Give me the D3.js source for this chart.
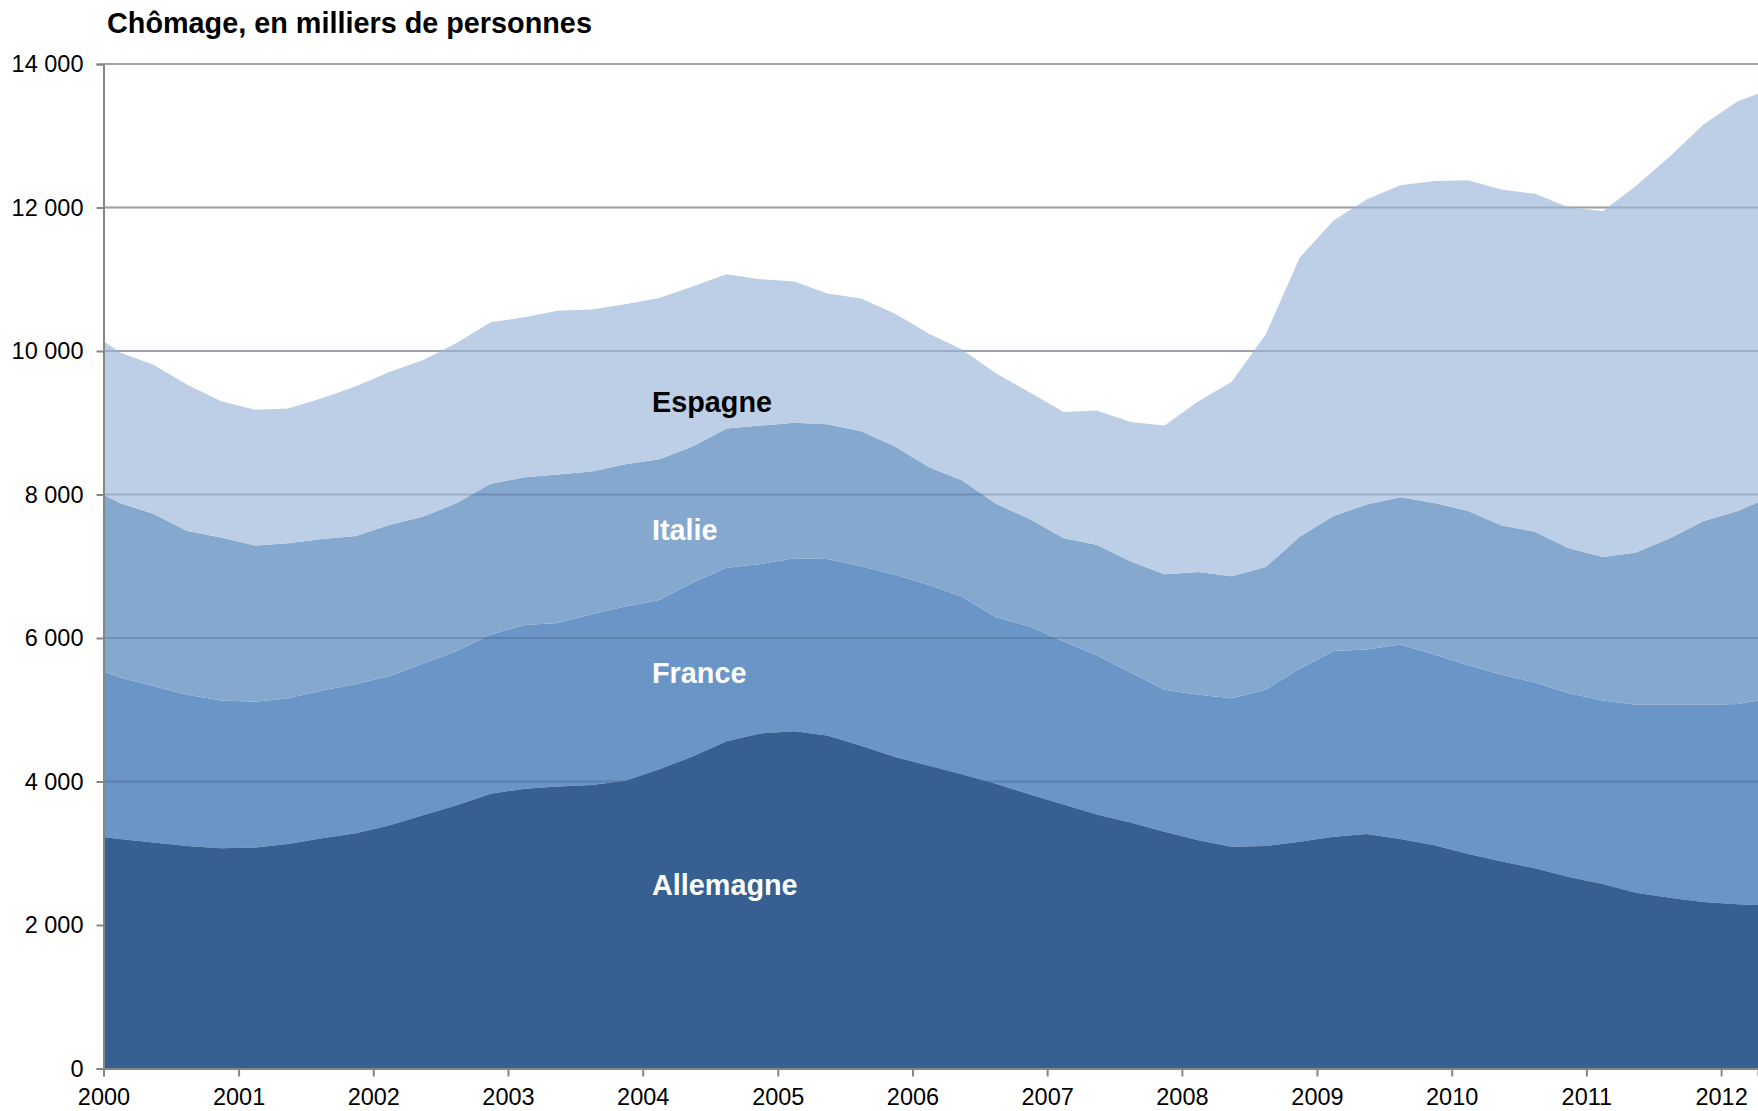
<!DOCTYPE html>
<html>
<head>
<meta charset="utf-8">
<script src="https://cdn.jsdelivr.net/npm/d3@7"></script>
<style>
  html, body { margin: 0; padding: 0; background: #fff; }
  svg { display: block; }
</style>
</head>
<body>
<svg id="chart" width="1758" height="1111"></svg>
<script>
// ---- Data (milliers de personnes), trimestres ----
const quarters = [
  "1999T4",
  "2000T1","2000T2","2000T3","2000T4",
  "2001T1","2001T2","2001T3","2001T4",
  "2002T1","2002T2","2002T3","2002T4",
  "2003T1","2003T2","2003T3","2003T4",
  "2004T1","2004T2","2004T3","2004T4",
  "2005T1","2005T2","2005T3","2005T4",
  "2006T1","2006T2","2006T3","2006T4",
  "2007T1","2007T2","2007T3","2007T4",
  "2008T1","2008T2","2008T3","2008T4",
  "2009T1","2009T2","2009T3","2009T4",
  "2010T1","2010T2","2010T3","2010T4",
  "2011T1","2011T2","2011T3","2011T4",
  "2012T1","2012T2"
];
const allemagne = [
  3250,
  3200,3150,3100,3070,
  3080,3130,3210,3280,
  3390,3530,3670,3830,
  3900,3930,3950,4010,
  4170,4350,4560,4670,
  4700,4640,4500,4340,
  4220,4100,3970,3820,
  3680,3540,3430,3300,
  3180,3090,3100,3160,
  3230,3270,3200,3110,
  2990,2890,2790,2670,
  2570,2450,2380,2320,
  2290,2270
];
const france = [
  2370,
  2250,2180,2110,2060,
  2030,2030,2060,2080,
  2080,2110,2150,2220,
  2280,2280,2380,2430,
  2360,2420,2420,2360,
  2410,2460,2500,2540,
  2520,2480,2320,2340,
  2270,2220,2090,1980,
  2030,2070,2180,2410,
  2590,2570,2710,2660,
  2630,2600,2590,2560,
  2560,2620,2690,2750,
  2790,2890
];
const italie = [
  2500,
  2430,2400,2280,2270,
  2180,2160,2110,2060,
  2110,2050,2060,2100,
  2060,2070,1990,1980,
  1960,1900,1940,1930,
  1890,1880,1880,1790,
  1640,1620,1580,1500,
  1440,1540,1550,1610,
  1710,1700,1710,1840,
  1880,2020,2050,2110,
  2150,2080,2100,2020,
  2000,2120,2320,2560,
  2690,2810
];
const espagne = [
  2180,
  2100,2080,2040,1900,
  1890,1880,1960,2090,
  2130,2180,2230,2250,
  2230,2280,2260,2230,
  2250,2230,2150,2040,
  1970,1820,1850,1850,
  1860,1820,1820,1760,
  1760,1870,1940,2070,
  2380,2710,3240,3890,
  4120,4250,4350,4490,
  4610,4680,4710,4750,
  4820,5110,5320,5530,
  5710,5680
];
const seriesNames = ["Allemagne", "France", "Italie", "Espagne"];
const yTickValues = [0, 2000, 4000, 6000, 8000, 10000, 12000, 14000];
const xTickYears = [2000,2001,2002,2003,2004,2005,2006,2007,2008,2009,2010,2011,2012];
const titleText = "Chômage, en milliers de personnes";

(function () {
  function quarterToDate(q) {
    const yr = +q.slice(0, 4), t = +q.slice(5);
    return new Date(yr, (t - 1) * 3 + 1, 15); // milieu du trimestre
  }
  const table = quarters.map((q, i) => ({
    date: quarterToDate(q),
    Allemagne: allemagne[i],
    France: france[i],
    Italie: italie[i],
    Espagne: espagne[i]
  }));

  const mLeft = 103.5, mRight = 1758, mTop = 64, mBottom = 1068.5;
  const svg = d3.select("#chart");
  const x = d3.scaleTime()
    .domain([new Date(2000, 0, 1), new Date(2012, 3, 10)])
    .range([mLeft, mRight]);
  const y = d3.scaleLinear().domain([0, 14000]).range([mBottom, mTop]);

  const colors = {
    Allemagne: "#366092",
    France: "#6A96C7",
    Italie: "#85A8CF",
    Espagne: "#BDCFE6"
  };
  const labelStyle = {
    Allemagne: { fill: "#ffffff", by: 895 },
    France: { fill: "#ffffff", by: 683 },
    Italie: { fill: "#ffffff", by: 540 },
    Espagne: { fill: "#000000", by: 412 }
  };

  svg.append("defs").append("clipPath").attr("id", "plotClip")
    .append("rect").attr("x", mLeft).attr("y", 0)
    .attr("width", mRight - mLeft).attr("height", mBottom);

  const stacked = d3.stack().keys(seriesNames)(table);
  const area = d3.area()
    .x(d => x(d.data.date))
    .y0(d => y(d[0]))
    .y1(d => y(d[1]));

  const plot = svg.append("g").attr("clip-path", "url(#plotClip)");
  const grid = yTickValues.filter(v => v > 0);

  plot.append("g").selectAll("line")
    .data(grid).join("line")
    .attr("x1", mLeft).attr("x2", mRight)
    .attr("y1", d => y(d)).attr("y2", d => y(d))
    .attr("stroke", "#BEBEBE").attr("stroke-width", 2);

  plot.append("g").selectAll("path")
    .data(stacked.filter(s => s.key !== "Allemagne"))
    .join("path")
    .attr("d", area)
    .attr("fill", s => colors[s.key]);

  plot.append("g").selectAll("line")
    .data(grid).join("line")
    .attr("x1", mLeft).attr("x2", mRight)
    .attr("y1", d => y(d)).attr("y2", d => y(d))
    .attr("stroke", "rgba(40,60,90,0.22)").attr("stroke-width", 2);

  plot.append("g").selectAll("path")
    .data(stacked.filter(s => s.key === "Allemagne"))
    .join("path")
    .attr("d", area)
    .attr("fill", s => colors[s.key]);

  const axisColor = "#868686";
  const yAxis = svg.append("g")
    .attr("transform", `translate(${mLeft},0)`)
    .call(d3.axisLeft(y).tickValues(yTickValues)
      .tickFormat(d => d3.format(",")(d).replace(/,/g, " "))
      .tickSize(7).tickPadding(13));
  const xAxis = svg.append("g")
    .attr("transform", `translate(0,${mBottom})`)
    .call(d3.axisBottom(x).tickValues(xTickYears.map(yr => new Date(yr, 0, 1)))
      .tickFormat(d3.timeFormat("%Y"))
      .tickSize(8).tickPadding(12));
  [yAxis, xAxis].forEach(g => {
    g.select(".domain").attr("stroke", axisColor).attr("stroke-width", 2);
    g.selectAll(".tick line").attr("stroke", axisColor).attr("stroke-width", 2);
    g.selectAll(".tick text")
      .attr("fill", "#000")
      .attr("font-family", "'Liberation Sans', Arial, sans-serif")
      .attr("font-size", 23.5);
  });

  svg.append("text")
    .attr("x", 107).attr("y", 33)
    .attr("font-family", "'Liberation Sans', Arial, sans-serif")
    .attr("font-weight", "bold").attr("font-size", 28.8)
    .attr("fill", "#000")
    .text(titleText);

  svg.append("g").selectAll("text")
    .data(seriesNames)
    .join("text")
    .attr("x", 652)
    .attr("y", d => labelStyle[d].by)
    .attr("font-family", "'Liberation Sans', Arial, sans-serif")
    .attr("font-weight", "bold").attr("font-size", 28.8)
    .attr("fill", d => labelStyle[d].fill)
    .text(d => d);
})();
</script>
</body>
</html>
